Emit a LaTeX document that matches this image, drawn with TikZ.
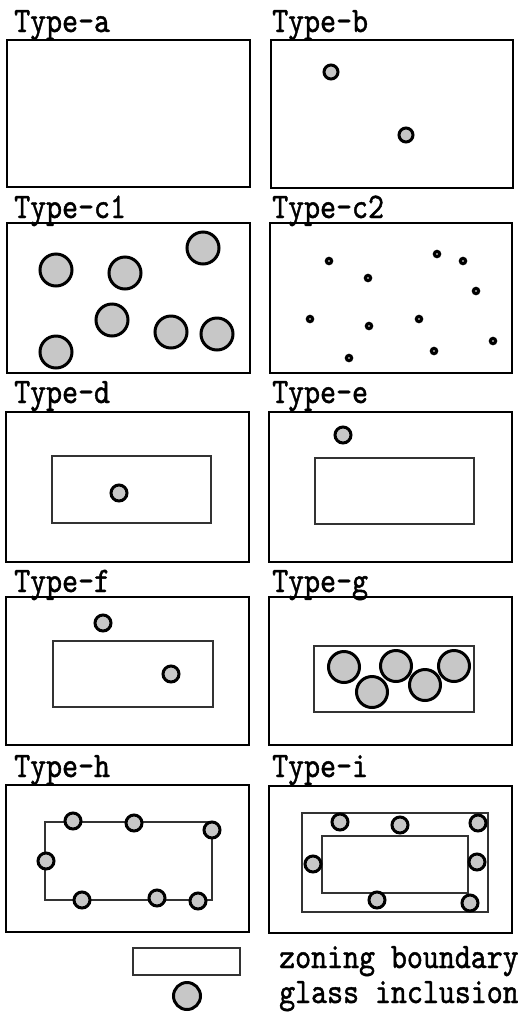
\documentclass[tikz,border=0pt]{standalone}
\usepackage{fontspec}
\setmonofont{lmmono10-regular}[Extension=.otf, FakeBold=1.2, FakeStretch=0.845]
\newcommand\tfont{\fontsize{36}{40}\selectfont\ttfamily}
\newcommand\lab[1]{{\tfont #1}}
\begin{document}
\begin{tikzpicture}[x=1pt,y=-1pt,
  outer/.style={draw=black, line width=2.7pt},
  zone/.style={draw=black!80, line width=1.9pt},
  incl/.style={draw=black, line width=3pt, fill=black!22},
  tiny/.style={draw=black, line width=3.2pt, fill=white},
  lbl/.style={anchor=base west, inner sep=0pt}]
\useasboundingbox (0,0) rectangle (518,1013);
% labels
\node[lbl] (la) at (14,32) {\lab{Type-a}};
\node[lbl] (lb) at (272,32) {\lab{Type-b}};
\node[lbl] (lc1) at (14,218) {\lab{Type-c1}};
\node[lbl] (lc2) at (272,218) {\lab{Type-c2}};
\node[lbl] (ld) at (14,403) {\lab{Type-d}};
\node[lbl] (le) at (272,403) {\lab{Type-e}};
\node[lbl] (lf) at (14,592) {\lab{Type-f}};
\node[lbl] (lg) at (272,592) {\lab{Type-g}};
\node[lbl] (lh) at (14,777) {\lab{Type-h}};
\node[lbl] (li) at (272,777) {\lab{Type-i}};
% Type-a
\draw[outer] (7,40) rectangle (250,187);
% Type-b
\draw[outer] (271,40) rectangle (513,188);
\draw[incl] (331,72) circle[radius=7pt];
\draw[incl] (406,135) circle[radius=7pt];
% Type-c1
\draw[outer] (7,223) rectangle (250,373);
\foreach \p in {(56,270),(125,273),(203,248),(112,320),(171,332),(217,334),(56,352)}
  \draw[incl] \p circle[radius=16pt];
% Type-c2
\draw[outer] (270,223) rectangle (512,373);
\foreach \p in {(329,261),(437,254),(463,261),(368,278),(476,291),(310,319),(369,326),(419,319),(493,341),(434,351),(349,358)}
  \draw[tiny] \p circle[radius=2.6pt];
% Type-d
\draw[outer] (6,412) rectangle (249,562);
\draw[zone] (52,456) rectangle (211,523);
\draw[incl] (119,493) circle[radius=8pt];
% Type-e
\draw[outer] (269,412) rectangle (512,562);
\draw[zone] (315,458) rectangle (474,524);
\draw[incl] (343,435) circle[radius=8pt];
% Type-f
\draw[outer] (6,597) rectangle (249,745);
\draw[zone] (53,641) rectangle (213,707);
\draw[incl] (103,623) circle[radius=8pt];
\draw[incl] (171,674) circle[radius=8pt];
% Type-g
\draw[outer] (269,597) rectangle (512,745);
\draw[zone] (314,646) rectangle (474,712);
\foreach \p in {(344,667),(372,692),(396,666),(425,685),(454,666)}
  \draw[incl] \p circle[radius=15.5pt];
% Type-h
\draw[outer] (6,785) rectangle (249,932);
\draw[zone] (45,822) rectangle (212,900);
\foreach \p in {(73,821),(134,823),(212,830),(46,861),(82,900),(157,898),(198,901)}
  \draw[incl] \p circle[radius=8pt];
% Type-i
\draw[outer] (269,786) rectangle (512,933);
\draw[zone] (302,813) rectangle (488,912);
\draw[zone] (322,836) rectangle (468,893);
\foreach \p in {(340,822),(400,825),(478,823),(313,864),(477,862),(377,900),(470,903)}
  \draw[incl] \p circle[radius=8pt];
% legend
\draw[zone] (133,948) rectangle (240,975);
\draw[incl] (187,996) circle[radius=13.5pt];
\node[lbl] (lz) at (279,968) {\lab{zoning boundary}};
\node[lbl] (lgi) at (279,1003) {\lab{glass inclusion}};
\end{tikzpicture}
\end{document}
